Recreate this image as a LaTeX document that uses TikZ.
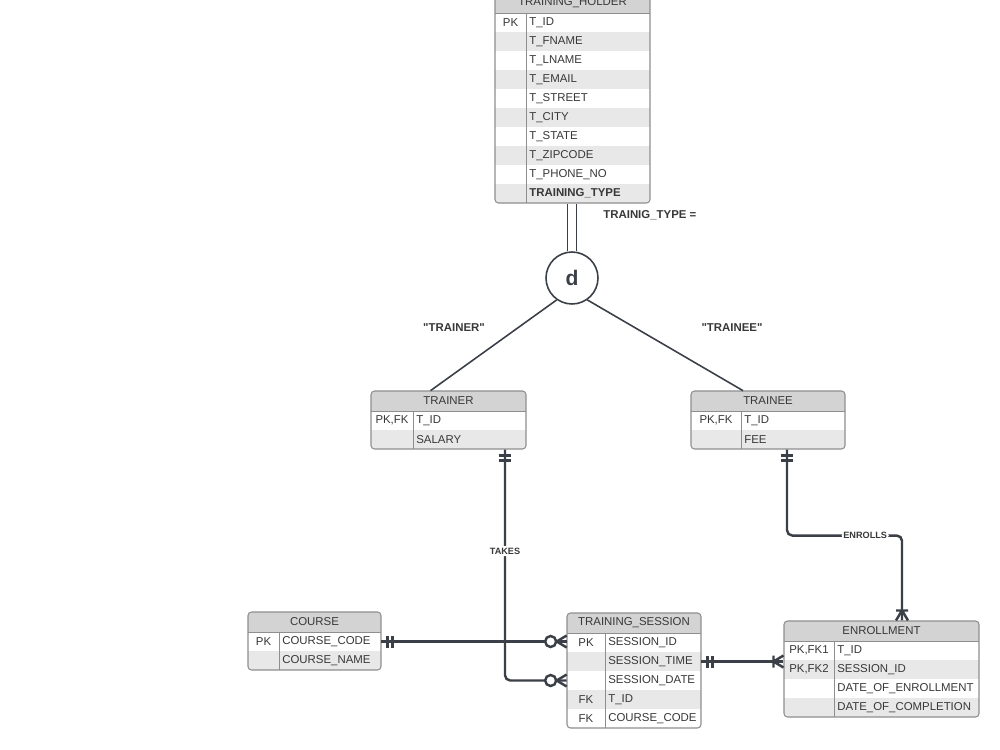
\documentclass[tikz,border=0pt]{standalone}
\usepackage{fontspec}
\setmainfont{Liberation Sans}[Ligatures=TeXOff]
\usetikzlibrary{positioning, backgrounds}
\definecolor{ink}{HTML}{3B4048}
\definecolor{textgray}{HTML}{383838}
\definecolor{framegray}{HTML}{8E8E8E}
\definecolor{headgray}{HTML}{D3D3D3}
\definecolor{rowgray}{HTML}{E8E8E8}

% #1 name, #2 left, #3 right, #4 key divider, #5 top, #6 bottom, #7 title, #8 rows key/field
\newcommand{\ertable}[8]{%
  \pgfmathsetmacro{\tw}{(#3-#2)*0.02}
  \pgfmathsetmacro{\th}{(#6-#5)*0.02}
  \begin{scope}
    \clip[rounded corners=2pt] (#2,#5) rectangle (#3,#6);
    \node[headcell, minimum width=\tw cm] (#1) at ({(#2+#3)/2},#5+10) {#7};
    \foreach \k/\f [count=\i] in {#8} {
      \pgfmathsetmacro{\yc}{#5+20+19*(\i-1)+9.5}
      \ifodd\i \def\rowfill{white}\else \def\rowfill{rowgray}\fi
      \node[rowcell, fill=\rowfill, minimum width=\tw cm] (#1-\i) at ({(#2+#3)/2},\yc) {};
      \node[keytext] (#1-k\i) at ({(#2+#4)/2},\yc) {\k};
      \node[fieldtext] (#1-f\i) at (#4+3,\yc) {\f};
    }
  \end{scope}
  \draw[grid] (#2,#5+20) -- (#3,#5+20) (#4,#5+20) -- (#4,#6);
  \node[frame, minimum width=\tw cm, minimum height=\th cm] (#1-frame) at ({(#2+#3)/2},{(#5+#6)/2}) {};
}

\begin{document}
\begin{tikzpicture}[
    x=0.02cm, y=-0.02cm,
    headcell/.style={rectangle, inner sep=0pt, fill=headgray, minimum height=0.4cm, font=\fontsize{6.5}{7.5}\selectfont\color{textgray}},
    rowcell/.style={rectangle, inner sep=0pt, minimum height=0.38cm},
    keytext/.style={inner sep=0pt, font=\fontsize{6.5}{7.5}\selectfont\color{textgray}},
    fieldtext/.style={anchor=west, inner sep=0pt, font=\fontsize{6.5}{7.5}\selectfont\color{textgray}},
    grid/.style={draw=framegray, line width=0.5pt},
    frame/.style={rectangle, rounded corners=2pt, draw=framegray, line width=0.6pt, inner sep=0pt},
    disc/.style={circle, draw=ink, line width=0.9pt, fill=white, minimum size=1.04cm, inner sep=0pt, font=\fontsize{12}{14}\selectfont\bfseries\color{ink}},
    dline/.style={draw=ink, double=white, double distance=4pt, line width=0.9pt},
    spec/.style={draw=ink, line width=0.9pt},
    conn/.style={draw=ink, line width=1.4pt, rounded corners=3pt},
    tick/.style={draw=ink, line width=1.4pt},
    cond/.style={inner sep=0pt, font=\fontsize{6.5}{7.5}\selectfont\bfseries\color{textgray}},
    lbl/.style={fill=white, inner sep=1pt, font=\fontsize{5.2}{6}\selectfont\bfseries\color{textgray}},
    onlyone/.pic={\draw[tick] (6,-6) -- (6,6) (11,-6) -- (11,6);},
    zeromany/.pic={\draw[tick] (0,-6) -- (10,0) -- (0,6); \draw[tick, fill=white] (16,0) circle (5.5);},
    onemany/.pic={\draw[tick] (0,-6) -- (10,0) -- (0,6) (10,-6) -- (10,6);},
  ]
  \useasboundingbox (0,0) rectangle (1000,750);

  % Tables
  \ertable{th}{495}{650}{526}{-7}{203}{TRAINING\_HOLDER}{PK/T\_ID, /T\_FNAME, /T\_LNAME, /T\_EMAIL, /T\_STREET, /T\_CITY, /T\_STATE, /T\_ZIPCODE, /T\_PHONE\_NO, /{\bfseries TRAINING\_TYPE}}
  \ertable{trainer}{371}{526}{413}{391}{449}{TRAINER}{{PK,FK}/T\_ID, /SALARY}
  \ertable{trainee}{691}{845}{741}{391}{449}{TRAINEE}{{PK,FK}/T\_ID, /FEE}
  \ertable{course}{248}{381}{279}{612}{670}{COURSE}{PK/COURSE\_CODE, /COURSE\_NAME}
  \ertable{ts}{567}{701}{605}{613}{728}{TRAINING\_SESSION}{PK/SESSION\_ID, /SESSION\_TIME, /SESSION\_DATE, FK/T\_ID, FK/COURSE\_CODE}
  \ertable{enroll}{784}{979}{834}{621}{717}{ENROLLMENT}{{PK,FK1}/T\_ID, {PK,FK2}/SESSION\_ID, /DATE\_OF\_ENROLLMENT, /DATE\_OF\_COMPLETION}

  % Specialization
  \node[disc] (d) at (572,278) {d};
  \begin{scope}[on background layer]
    \draw[dline] (th-frame.south -| d) -- (d.north);
  \end{scope}
  \node[cond, anchor=west] (cond) at (603,215) {TRAINIG\_TYPE =};
  \draw[spec] (d.235) -- ([xshift=-0.36cm]trainer.north);
  \draw[spec] (d.305) -- ([xshift=-0.5cm]trainee.north);
  \node[cond] (trainerval) at (454,328) {"TRAINER"};
  \node[cond] (traineeval) at (732,328) {"TRAINEE"};

  % Relationships
  \draw[conn] (course-1.east) -- (course-1.east -| ts-1.west);
  \pic at (course-1.east) {onlyone};
  \pic[rotate=180] at (course-1.east -| ts-1.west) {zeromany};

  \draw[conn] ([xshift=1.13cm]trainer-frame.south) |- node[lbl, pos=0.22] {TAKES} (ts-3.west);
  \pic[rotate=-90] at ([xshift=1.13cm]trainer-frame.south) {onlyone};
  \pic[rotate=180] at (ts-3.west) {zeromany};

  \draw[conn] (ts-2.east) -- (ts-2.east -| enroll-frame.west);
  \pic at (ts-2.east) {onlyone};
  \pic[rotate=180] at (ts-2.east -| enroll-frame.west) {onemany};

  \draw[conn] ([xshift=0.38cm]trainee-frame.south) -- ++(0,86) -| node[lbl, pos=0.34] {ENROLLS} ([xshift=0.41cm]enroll-frame.north);
  \pic[rotate=-90] at ([xshift=0.38cm]trainee-frame.south) {onlyone};
  \pic[rotate=90] at ([xshift=0.41cm]enroll-frame.north) {onemany};
\end{tikzpicture}
\end{document}
